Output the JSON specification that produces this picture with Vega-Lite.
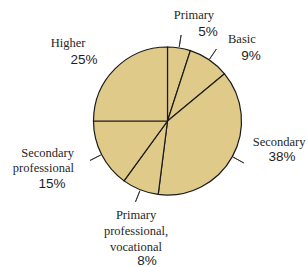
{
  "$schema": "https://vega.github.io/schema/vega-lite/v6.json",
  "width": 279,
  "height": 242,
  "autosize": "none",
  "padding": {"left": 28, "top": 0, "right": 0, "bottom": 25},
  "background": "white",
  "config": {"view": {"stroke": null}},
  "data": {"values": [
    {"rank": 1, "category": "Primary", "label": ["Primary"], "pct": 0.05},
    {"rank": 2, "category": "Basic", "label": ["Basic"], "pct": 0.09},
    {"rank": 3, "category": "Secondary", "label": ["Secondary"], "pct": 0.38},
    {"rank": 4, "category": "Primary professional, vocational", "label": ["Primary", "professional,", "vocational"], "pct": 0.08},
    {"rank": 5, "category": "Secondary professional", "label": ["Secondary", "professional"], "pct": 0.15},
    {"rank": 6, "category": "Higher", "label": ["Higher"], "pct": 0.25}
  ]},
  "encoding": {
    "theta": {"field": "pct", "type": "quantitative", "stack": true},
    "order": {"field": "rank", "type": "quantitative"}
  },
  "layer": [
    {"mark": {"type": "arc", "outerRadius": 74, "fill": "#dfca8a", "stroke": "#1a1a1a", "strokeWidth": 1.2}},
    {"mark": {"type": "arc", "innerRadius": 75, "outerRadius": 87, "padAngle": 3.14, "fill": null, "stroke": "#333333", "strokeWidth": 0.9},
     "encoding": {"strokeOpacity": {"condition": {"test": "datum.category === 'Higher'", "value": 0}, "value": 1}}},
    {"mark": {"type": "text", "radius": 95, "font": "Liberation Serif", "fontSize": 12.5, "fill": "#262626", "lineHeight": 15.5, "dx": 11.6, "dy": -12.2},
     "encoding": {"text": {"condition": {"test": "datum.category === 'Primary'", "field": "label"}, "value": ""}}},
    {"mark": {"type": "text", "radius": 95, "font": "Liberation Sans", "fontSize": 13.5, "fill": "#1e1e1e", "dx": 25.6, "dy": 4.8},
     "encoding": {"text": {"condition": {"test": "datum.category === 'Primary'", "field": "pct", "format": ".0%"}, "value": ""}}},
    {"mark": {"type": "text", "radius": 95, "font": "Liberation Serif", "fontSize": 12.5, "fill": "#262626", "lineHeight": 15.5, "dx": 21, "dy": -3.4},
     "encoding": {"text": {"condition": {"test": "datum.category === 'Basic'", "field": "label"}, "value": ""}}},
    {"mark": {"type": "text", "radius": 95, "font": "Liberation Sans", "fontSize": 13.5, "fill": "#1e1e1e", "dx": 30, "dy": 13.6},
     "encoding": {"text": {"condition": {"test": "datum.category === 'Basic'", "field": "pct", "format": ".0%"}, "value": ""}}},
    {"mark": {"type": "text", "radius": 95, "font": "Liberation Serif", "fontSize": 12.5, "fill": "#262626", "lineHeight": 15.5, "dx": 28.3, "dy": -24.8},
     "encoding": {"text": {"condition": {"test": "datum.category === 'Secondary'", "field": "label"}, "value": ""}}},
    {"mark": {"type": "text", "radius": 95, "font": "Liberation Sans", "fontSize": 13.5, "fill": "#1e1e1e", "dx": 31.3, "dy": -9.8},
     "encoding": {"text": {"condition": {"test": "datum.category === 'Secondary'", "field": "pct", "format": ".0%"}, "value": ""}}},
    {"mark": {"type": "text", "radius": 95, "font": "Liberation Serif", "fontSize": 12.5, "fill": "#262626", "lineHeight": 16, "dx": 3.5, "dy": 5.7},
     "encoding": {"text": {"condition": {"test": "datum.category === 'Primary professional, vocational'", "field": "label"}, "value": ""}}},
    {"mark": {"type": "text", "radius": 95, "font": "Liberation Sans", "fontSize": 13.5, "fill": "#1e1e1e", "dx": 14.5, "dy": 51.5},
     "encoding": {"text": {"condition": {"test": "datum.category === 'Primary professional, vocational'", "field": "pct", "format": ".0%"}, "value": ""}}},
    {"mark": {"type": "text", "radius": 95, "font": "Liberation Serif", "fontSize": 12.5, "fill": "#262626", "lineHeight": 15, "align": "right", "dx": -8.9, "dy": -11.1},
     "encoding": {"text": {"condition": {"test": "datum.category === 'Secondary professional'", "field": "label"}, "value": ""}}},
    {"mark": {"type": "text", "radius": 95, "font": "Liberation Sans", "fontSize": 13.5, "fill": "#1e1e1e", "dx": -30.9, "dy": 19.9},
     "encoding": {"text": {"condition": {"test": "datum.category === 'Secondary professional'", "field": "pct", "format": ".0%"}, "value": ""}}},
    {"mark": {"type": "text", "radius": 95, "font": "Liberation Serif", "fontSize": 12.5, "fill": "#262626", "lineHeight": 15.5, "dx": -32.3, "dy": -10.8},
     "encoding": {"text": {"condition": {"test": "datum.category === 'Higher'", "field": "label"}, "value": ""}}},
    {"mark": {"type": "text", "radius": 95, "font": "Liberation Sans", "fontSize": 13.5, "fill": "#1e1e1e", "dx": -16.3, "dy": 6.2},
     "encoding": {"text": {"condition": {"test": "datum.category === 'Higher'", "field": "pct", "format": ".0%"}, "value": ""}}}
  ]
}
